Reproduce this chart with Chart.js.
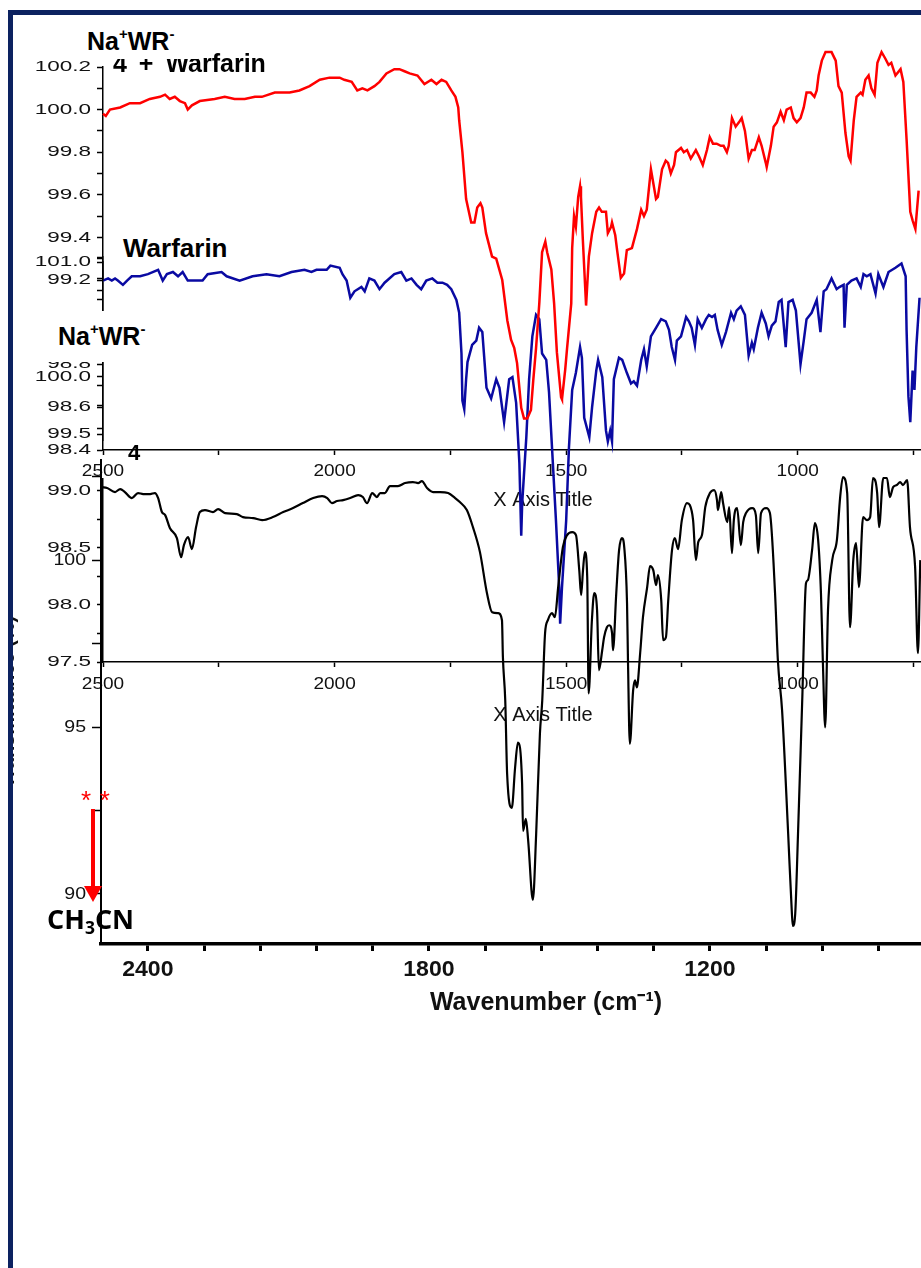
<!DOCTYPE html>
<html>
<head>
<meta charset="utf-8">
<script src="https://cdn.jsdelivr.net/npm/chart.js@4.4.1/dist/chart.umd.min.js"></script>
<style>
  body { margin: 0; background: #fff; }
  #wrap { position: relative; width: 921px; height: 1268px; overflow: hidden; background: #fff; }
  #wrap canvas { position: absolute; left: 0; top: 0; }
  .lbl { position: absolute; font-family: "Liberation Sans", Arial, sans-serif; font-weight: bold; color: #000; white-space: nowrap; }
  .lbl sup { font-size: 60%; line-height: 0; vertical-align: 0.75em; }
  .box { background: #fff; }
  #naTop { left: 85px; top: 24px; width: 111px; height: 35px; line-height: 35px; font-size: 25px; padding-left: 2px; }
  #fourWarf { left: 113px; top: 48px; line-height: 30px; font-size: 25px; word-spacing: 5px; }
  #warf { left: 118px; top: 232px; width: 125px; height: 32px; line-height: 32px; font-size: 26px; padding-left: 5px; }
  #naMid { left: 28px; top: 311px; width: 91px; height: 51px; line-height: 51px; font-size: 25px; padding-left: 30px; }
  #four { left: 128px; top: 440px; line-height: 26px; font-size: 22px; }
  #stars { position: absolute; left: 81px; top: 787px; font: 26px "Liberation Sans", Arial, sans-serif; line-height: 26px; color: #f00; word-spacing: 1.5px; }
  #arrow { position: absolute; left: 80px; top: 805px; }
  #ch3cn { position: absolute; left: 47px; top: 903px; font: bold 27px "Open Sans", sans-serif; line-height: 32px; color: #000; }
  #ch3cn sub { font-size: 65%; line-height: 0; vertical-align: -0.3em; }
  .frame { position: absolute; background: #0c2260; }
  .mask { position: absolute; background: #fff; }
</style>
</head>
<body>
<div id="wrap">
  <canvas id="panelB2" width="1000" height="1268"></canvas>
  <canvas id="panelB" width="1000" height="1268"></canvas>
  <canvas id="panelC" width="1000" height="1268"></canvas>
  <canvas id="panelD" width="1000" height="1268"></canvas>
  <canvas id="panelA" width="1000" height="1268"></canvas>

  <div class="lbl" id="fourWarf">4 + Warfarin</div>
  <div class="lbl box" id="naTop">Na<sup>+</sup>WR<sup>-</sup></div>
  <div class="lbl box" id="warf">Warfarin</div>
  <div class="lbl box" id="naMid">Na<sup>+</sup>WR<sup>-</sup></div>
  <div class="lbl" id="four">4</div>

  <div id="stars">* *</div>
  <svg id="arrow" width="26" height="100">
    <line x1="13" y1="4" x2="13" y2="84" stroke="#f00" stroke-width="4"/>
    <polygon points="4,81 22,81 13,97" fill="#f00"/>
  </svg>
  <div id="ch3cn">CH<sub>3</sub>CN</div>

  <div class="mask" style="left:0;top:0;width:8px;height:1268px"></div>
  <div class="mask" style="left:0;top:0;width:921px;height:10px"></div>
  <div class="frame" style="left:8px;top:10px;width:913px;height:5px"></div>
  <div class="frame" style="left:8px;top:10px;width:5px;height:1258px"></div>
</div>

<script>
// Na+WR- + Warfarin (red)
const redWn = [2500, 2494, 2485, 2463, 2442, 2420, 2399, 2377, 2366, 2356, 2345, 2334, 2323, 2317, 2308, 2291, 2259, 2237, 2216, 2194,
  2172, 2157, 2129, 2097, 2076, 2054, 2032, 2011, 1989, 1979, 1963, 1951, 1940, 1929, 1914, 1903, 1888, 1871, 1860, 1849,
  1838, 1821, 1806, 1791, 1780, 1769, 1759, 1748, 1739, 1733, 1731, 1724, 1716, 1705, 1698, 1692, 1685, 1681, 1673, 1660,
  1651, 1638, 1627, 1619, 1612, 1606, 1597, 1591, 1584, 1576, 1571, 1565, 1558, 1552, 1545, 1541, 1532, 1526, 1520, 1511,
  1509, 1502, 1498, 1489, 1487, 1483, 1479, 1474, 1470, 1468, 1464, 1457, 1451, 1444, 1435, 1429, 1423, 1414, 1410, 1403,
  1401, 1394, 1390, 1382, 1375, 1369, 1358, 1347, 1338, 1332, 1326, 1317, 1306, 1302, 1293, 1285, 1280, 1274, 1267, 1263,
  1252, 1246, 1239, 1231, 1220, 1213, 1205, 1196, 1190, 1183, 1175, 1166, 1160, 1153, 1149, 1142, 1134, 1127, 1121, 1114,
  1106, 1099, 1093, 1084, 1078, 1069, 1067, 1058, 1052, 1045, 1037, 1030, 1024, 1015, 1009, 1002, 994, 987, 981, 972,
  964, 959, 955, 948, 940, 933, 927, 918, 912, 905, 897, 890, 886, 879, 873, 864, 860, 854, 847, 841,
  834, 828, 819, 811, 804, 798, 789, 778, 772, 765, 757, 752, 746, 739];
const redT = [99.98, 99.97, 100.00, 100.01, 100.03, 100.03, 100.05, 100.06, 100.07, 100.05, 100.06, 100.04, 100.03, 100.00, 100.02, 100.04, 100.05, 100.06, 100.05, 100.05,
  100.06, 100.06, 100.08, 100.08, 100.09, 100.11, 100.14, 100.15, 100.15, 100.14, 100.13, 100.09, 100.10, 100.09, 100.11, 100.13, 100.17, 100.19, 100.19, 100.18,
  100.17, 100.16, 100.12, 100.14, 100.12, 100.14, 100.13, 100.09, 100.06, 100.01, 99.95, 99.80, 99.58, 99.47, 99.47, 99.54, 99.56, 99.54, 99.42, 99.31,
  99.30, 99.20, 99.01, 98.92, 98.88, 98.81, 98.60, 98.55, 98.55, 98.59, 98.73, 98.88, 99.09, 99.33, 99.38, 99.33, 99.25, 99.09, 98.86, 98.65,
  98.64, 98.78, 98.88, 99.09, 99.35, 99.50, 99.45, 99.59, 99.64, 99.59, 99.39, 99.08, 99.31, 99.42, 99.52, 99.54, 99.52, 99.52, 99.42, 99.45,
  99.47, 99.41, 99.34, 99.21, 99.23, 99.34, 99.35, 99.44, 99.53, 99.50, 99.53, 99.72, 99.58, 99.59, 99.72, 99.76, 99.75, 99.70, 99.74, 99.80,
  99.82, 99.80, 99.81, 99.77, 99.81, 99.78, 99.74, 99.81, 99.87, 99.84, 99.84, 99.83, 99.83, 99.80, 99.83, 99.96, 99.92, 99.94, 99.96, 99.90,
  99.77, 99.81, 99.81, 99.87, 99.83, 99.75, 99.73, 99.83, 99.92, 99.94, 99.99, 99.95, 100.00, 100.01, 99.96, 99.94, 99.96, 100.01, 100.08, 100.08,
  100.06, 100.09, 100.16, 100.23, 100.27, 100.27, 100.27, 100.23, 100.11, 100.08, 99.89, 99.78, 99.76, 99.95, 100.06, 100.08, 100.07, 100.14, 100.16, 100.10,
  100.07, 100.22, 100.27, 100.24, 100.21, 100.22, 100.16, 100.19, 100.13, 99.86, 99.52, 99.48, 99.44, 99.62];

// Warfarin (blue)
const blueWn = [2500, 2489, 2481, 2474, 2468, 2457, 2448, 2438, 2420, 2403, 2381, 2371, 2362, 2349, 2338, 2328, 2317, 2295, 2285, 2274,
  2244, 2233, 2205, 2177, 2147, 2119, 2093, 2065, 2050, 2039, 2017, 2009, 1989, 1983, 1974, 1966, 1957, 1942, 1935, 1925,
  1914, 1903, 1892, 1871, 1856, 1845, 1834, 1823, 1813, 1802, 1789, 1778, 1767, 1757, 1748, 1737, 1731, 1726, 1724, 1720,
  1716, 1713, 1703, 1694, 1688, 1681, 1672, 1662, 1651, 1644, 1634, 1623, 1616, 1608, 1601, 1597, 1595, 1586, 1580, 1573,
  1565, 1558, 1552, 1543, 1537, 1530, 1522, 1515, 1513, 1509, 1500, 1494, 1487, 1479, 1470, 1466, 1461, 1450, 1444, 1435,
  1431, 1422, 1414, 1410, 1405, 1401, 1397, 1386, 1379, 1369, 1360, 1354, 1347, 1338, 1332, 1326, 1317, 1306, 1295, 1285,
  1278, 1272, 1265, 1261, 1252, 1241, 1235, 1229, 1222, 1216, 1207, 1198, 1192, 1185, 1179, 1173, 1164, 1155, 1144, 1138,
  1132, 1123, 1114, 1106, 1099, 1095, 1086, 1078, 1069, 1063, 1056, 1048, 1041, 1035, 1026, 1020, 1011, 1004, 994, 987,
  981, 970, 959, 951, 944, 938, 927, 916, 910, 901, 899, 894, 884, 873, 864, 858, 851, 843, 832, 826,
  815, 804, 789, 776, 767, 765, 761, 757, 752, 748, 744, 737];
const blueT = [99.19, 99.20, 99.19, 99.20, 99.19, 99.17, 99.19, 99.21, 99.21, 99.22, 99.24, 99.19, 99.22, 99.23, 99.21, 99.23, 99.19, 99.19, 99.19, 99.22,
  99.23, 99.21, 99.19, 99.21, 99.22, 99.21, 99.23, 99.24, 99.23, 99.24, 99.24, 99.26, 99.25, 99.22, 99.19, 99.11, 99.14, 99.16, 99.14, 99.20,
  99.19, 99.15, 99.18, 99.22, 99.23, 99.19, 99.20, 99.17, 99.15, 99.19, 99.20, 99.18, 99.18, 99.17, 99.15, 99.10, 99.04, 98.85, 98.63, 98.59,
  98.73, 98.81, 98.89, 98.91, 98.97, 98.95, 98.69, 98.64, 98.73, 98.69, 98.53, 98.73, 98.74, 98.62, 98.34, 98.00, 98.15, 98.46, 98.73, 98.93,
  99.03, 99.01, 98.85, 98.82, 98.67, 98.39, 98.07, 97.76, 97.59, 97.76, 98.07, 98.41, 98.68, 98.76, 98.88, 98.83, 98.55, 98.46, 98.60, 98.77,
  98.82, 98.74, 98.49, 98.44, 98.49, 98.44, 98.73, 98.83, 98.82, 98.76, 98.71, 98.72, 98.70, 98.82, 98.87, 98.79, 98.93, 98.97, 99.01, 99.00,
  98.96, 98.88, 98.82, 98.91, 98.93, 99.02, 99.00, 98.97, 98.89, 99.01, 98.97, 99.01, 99.03, 99.02, 99.03, 98.96, 98.89, 98.95, 99.04, 99.01,
  99.05, 99.07, 99.03, 98.84, 98.90, 98.87, 98.97, 99.04, 98.99, 98.93, 98.98, 99.00, 99.09, 99.10, 98.88, 99.09, 99.10, 99.05, 98.80, 98.91,
  99.01, 99.04, 99.10, 98.95, 99.14, 99.15, 99.20, 99.15, 99.16, 99.17, 98.97, 99.17, 99.19, 99.20, 99.16, 99.22, 99.21, 99.22, 99.13, 99.22,
  99.16, 99.23, 99.25, 99.27, 99.21, 98.96, 98.65, 98.53, 98.77, 98.68, 98.88, 99.11];

// 4 (black)
const blackWn = [2498, 2487, 2470, 2459, 2449, 2434, 2421, 2410, 2395, 2385, 2378, 2370, 2363, 2353, 2338, 2329, 2323, 2314, 2306, 2297,
  2289, 2278, 2261, 2250, 2235, 2210, 2197, 2175, 2156, 2133, 2111, 2090, 2069, 2047, 2028, 2017, 2007, 1996, 1983, 1968,
  1951, 1941, 1932, 1921, 1911, 1904, 1894, 1883, 1866, 1851, 1834, 1823, 1815, 1804, 1791, 1776, 1759, 1744, 1734, 1719,
  1706, 1691, 1676, 1665, 1652, 1644, 1642, 1637, 1633, 1623, 1616, 1610, 1601, 1599, 1593, 1588, 1578, 1571, 1563, 1558,
  1552, 1546, 1537, 1531, 1524, 1514, 1505, 1494, 1486, 1479, 1475, 1471, 1467, 1462, 1459, 1452, 1447, 1441, 1437, 1430,
  1426, 1420, 1415, 1409, 1407, 1400, 1394, 1388, 1383, 1377, 1375, 1371, 1364, 1360, 1356, 1349, 1343, 1334, 1328, 1321,
  1315, 1311, 1304, 1300, 1294, 1289, 1281, 1275, 1268, 1260, 1249, 1243, 1236, 1230, 1225, 1217, 1210, 1200, 1191, 1185,
  1183, 1176, 1172, 1163, 1159, 1153, 1149, 1142, 1134, 1129, 1123, 1110, 1102, 1097, 1091, 1080, 1072, 1061, 1055, 1046,
  1033, 1025, 1023, 1018, 1012, 1003, 995, 991, 982, 976, 969, 963, 959, 954, 948, 939, 929, 922, 916, 907,
  901, 894, 888, 882, 873, 865, 858, 852, 843, 839, 830, 822, 816, 809, 801, 794, 788, 779, 773, 762,
  756, 751];
const blackT = [102.19, 102.16, 102.04, 102.13, 102.04, 101.86, 102.01, 101.98, 101.98, 102.01, 101.86, 101.44, 101.35, 100.96, 100.66, 100.09, 100.45, 100.69, 100.33, 100.99,
  101.44, 101.50, 101.44, 101.53, 101.41, 101.38, 101.29, 101.26, 101.20, 101.29, 101.44, 101.56, 101.71, 101.86, 101.92, 101.86, 101.71, 101.77, 101.80, 101.86,
  101.95, 101.89, 101.71, 102.01, 101.89, 102.01, 102.01, 102.22, 102.22, 102.31, 102.34, 102.31, 102.37, 102.16, 102.04, 102.04, 102.01, 101.86, 101.74, 101.50,
  100.99, 100.24, 99.01, 98.44, 98.41, 98.20, 97.09, 95.80, 93.60, 92.58, 93.78, 94.53, 93.30, 91.89, 92.25, 91.59, 89.82, 91.80, 94.80, 95.80,
  97.81, 98.20, 98.41, 98.29, 99.19, 100.39, 100.75, 100.84, 100.75, 99.70, 98.95, 99.70, 100.24, 99.49, 96.01, 98.20, 99.01, 98.50, 96.70, 97.30,
  97.69, 97.99, 98.05, 97.81, 97.30, 99.01, 100.30, 100.66, 100.39, 98.71, 97.00, 94.50, 96.10, 96.40, 96.19, 97.21, 98.29, 99.19, 99.82, 99.70,
  99.25, 99.55, 98.80, 97.60, 97.69, 98.80, 100.30, 100.66, 100.33, 101.20, 101.71, 101.65, 101.20, 100.00, 100.54, 100.75, 101.59, 102.01, 102.10, 101.80,
  101.50, 102.04, 101.71, 101.14, 101.59, 100.21, 101.20, 101.56, 100.45, 101.14, 101.41, 101.56, 101.35, 100.21, 101.41, 101.56, 101.41, 99.01, 97.00, 95.50,
  91.80, 89.40, 89.04, 89.40, 91.80, 95.80, 99.31, 99.40, 100.30, 101.11, 100.60, 99.01, 97.00, 94.99, 98.50, 100.00, 100.60, 101.89, 102.49, 102.01,
  97.99, 100.00, 100.51, 99.19, 101.29, 101.20, 101.29, 102.46, 102.01, 100.99, 102.46, 102.46, 101.89, 102.19, 102.25, 102.34, 102.25, 102.40, 100.99, 99.79,
  97.21, 100.00];

const SANS = '"Liberation Sans", Arial, sans-serif';

function puntos(xs, ys) {
  return xs.map((x, i) => ({ x: x, y: ys[i] }));
}

// tick labels drawn through the scales, slightly widened like the scanned figure
function tickLabels(axes) {
  return {
    id: 'tickLabels',
    beforeDatasetsDraw(chart) {
      const ctx = chart.ctx;
      axes.forEach(a => {
        const scale = chart.scales[a.id];
        scale.ticks.forEach(t => {
          const txt = a.format(t.value);
          if (!txt) return;
          const p = scale.getPixelForValue(t.value);
          ctx.save();
          ctx.font = a.font;
          ctx.fillStyle = '#111';
          ctx.textBaseline = 'middle';
          if (scale.isHorizontal()) {
            ctx.translate(p, a.at);
            ctx.textAlign = 'center';
          } else {
            ctx.translate(a.at, p);
            ctx.textAlign = 'right';
          }
          ctx.scale(a.sx, 1);
          ctx.fillText(txt, 0, 0);
          ctx.restore();
        });
      });
    }
  };
}

function ejeX(min, max, step, o) {
  return {
    type: 'linear', reverse: true, min: min, max: max, display: !!o.show,
    ticks: { stepSize: step, includeBounds: false, display: false },
    grid: { drawOnChartArea: false, tickLength: o.tick || 5, tickColor: '#000', tickWidth: o.tickWidth || 1.5 },
    border: { color: '#000', width: o.line || 1.5 },
    title: o.title ? { display: true, text: o.title, color: '#111', font: o.titleFont, padding: 0 } : { display: false },
    afterFit: s => { s.height = o.height || 0; }
  };
}

function ejeY(min, max, step, o) {
  return {
    type: 'linear', min: min, max: max,
    ticks: { stepSize: step, includeBounds: false, display: false },
    grid: { drawOnChartArea: false, tickLength: o.tick || 6, tickColor: '#000', tickWidth: 1.5 },
    border: { color: '#000', width: o.line || 1.5 },
    title: o.title ? { display: true, text: o.title, color: '#111', font: o.titleFont, padding: { top: -4, bottom: 0 } } : { display: false },
    afterFit: s => { s.width = o.width; }
  };
}

function crearPanel(id, cfg) {
  const ctx = document.getElementById(id).getContext('2d');
  return new Chart(ctx, {
    type: 'line',
    data: { datasets: cfg.datasets || [] },
    options: {
      responsive: false,
      animation: false,
      devicePixelRatio: 1,
      events: [],
      layout: { padding: cfg.padding },
      plugins: { legend: { display: false }, tooltip: { enabled: false } },
      scales: { x: cfg.x, y: cfg.y }
    },
    plugins: [tickLabels(cfg.labels)]
  });
}

const par = v => Math.round(v * 10) % 2 === 0 ? v.toFixed(1) : '';
const medio = v => Math.round(v * 4) % 2 === 0 ? v.toFixed(1) : '';
const cada500 = v => Math.round(v) % 500 === 0 ? String(Math.round(v)) : '';
const yFont = '15px ' + SANS;
const xFont = '17px ' + SANS;
const xTitleFont = { family: SANS, size: 20 };

// extra axis (99.5 - 101.0), no curve
crearPanel('panelB2', {
  padding: { top: 262, bottom: 828, left: 0, right: 17 },
  x: ejeX(600, 2500, 250, { show: false }),
  y: ejeY(99.45, 101.0, 0.25, { width: 103 }),
  labels: [{ id: 'y', at: 91, font: yFont, sx: 1.5, format: medio }]
});

// Warfarin panel
crearPanel('panelB', {
  padding: { top: 257, bottom: 756, left: 0, right: 17 },
  datasets: [{
    data: puntos(blueWn, blueT), borderColor: '#0a0aa2', borderWidth: 2.5,
    pointRadius: 0, tension: 0, clip: false
  }],
  x: ejeX(600, 2500, 250, { show: true, height: 62, title: 'X Axis Title', titleFont: xTitleFont }),
  y: ejeY(98.4, 99.3, 0.1, { width: 103 }),
  labels: [
    { id: 'y', at: 91, font: yFont, sx: 1.5, format: v => v < 99.05 ? par(v) : '' },
    { id: 'x', at: 471, font: xFont, sx: 1.12, format: cada500 }
  ]
});

// empty panel (97.5 - 99.0)
crearPanel('panelC', {
  padding: { top: 479, bottom: 541, left: 0, right: 17 },
  x: ejeX(600, 2500, 250, { show: true, height: 65, title: 'X Axis Title', titleFont: xTitleFont }),
  y: ejeY(97.5, 99.1, 0.25, { width: 103 }),
  labels: [
    { id: 'y', at: 91, font: yFont, sx: 1.5, format: medio },
    { id: 'x', at: 684, font: xFont, sx: 1.12, format: cada500 }
  ]
});

// main panel, black spectrum
crearPanel('panelD', {
  padding: { top: 460, bottom: 250, left: 0, right: 9 },
  datasets: [{
    data: puntos(blackWn, blackT), borderColor: '#000', borderWidth: 2.2,
    pointRadius: 0, cubicInterpolationMode: 'monotone', clip: false
  }],
  x: ejeX(600, 2500, 120, {
    show: true, height: 74, tick: 7, tickWidth: 3, line: 3.5,
    title: 'Wavenumber (cm\u207B\u00B9)', titleFont: { family: SANS, size: 25, weight: 'bold' }
  }),
  y: ejeY(88.5, 103, 2.5, {
    width: 101, tick: 9, line: 2,
    title: 'Transmittance (%)', titleFont: { family: SANS, size: 20, weight: 'bold' }
  }),
  labels: [
    { id: 'y', at: 86, font: '17px ' + SANS, sx: 1.15, format: v => Math.round(v * 2) % 2 === 0 ? String(Math.round(v)) : '' },
    { id: 'x', at: 970, font: 'bold 22px ' + SANS, sx: 1.05, format: v => Math.round(v) % 600 === 0 ? String(Math.round(v)) : '' }
  ]
});

// Na+WR- + Warfarin panel
crearPanel('panelA', {
  padding: { top: 67, bottom: 988, left: 0, right: 17 },
  datasets: [{
    data: puntos(redWn, redT), borderColor: '#ff0000', borderWidth: 2.5,
    pointRadius: 0, tension: 0, clip: false
  }],
  x: ejeX(600, 2500, 250, { show: false }),
  y: ejeY(99.2, 100.2, 0.1, { width: 103 }),
  labels: [{ id: 'y', at: 91, font: yFont, sx: 1.5, format: par }]
});
</script>
</body>
</html>
